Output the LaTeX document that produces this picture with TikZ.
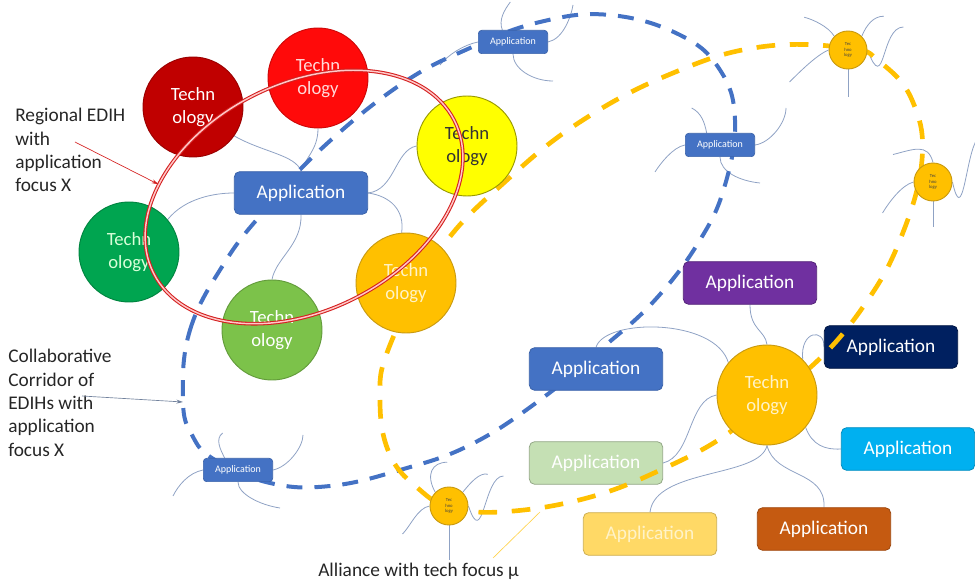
\documentclass[tikz,border=0pt]{standalone}
\usepackage{fontspec}
\setmainfont{Carlito}
\usetikzlibrary{shapes.geometric,arrows.meta}

\definecolor{cDarkRed}{HTML}{C00000}
\definecolor{cRed}{HTML}{FF0A0A}
\definecolor{cYellow}{HTML}{FFFF00}
\definecolor{cGreen}{HTML}{00A550}
\definecolor{cLightGreen}{HTML}{7CC24A}
\definecolor{cOrange}{HTML}{FFC000}
\definecolor{cOrangeDark}{HTML}{C99A10}
\definecolor{cBlue}{HTML}{4472C4}
\definecolor{cBlueDark}{HTML}{3A62AA}
\definecolor{cPurple}{HTML}{7030A0}
\definecolor{cNavy}{HTML}{002060}
\definecolor{cCyan}{HTML}{00B0F0}
\definecolor{cPaleGreen}{HTML}{C5E0B4}
\definecolor{cPaleYellow}{HTML}{FFD966}
\definecolor{cBrown}{HTML}{C55A11}
\definecolor{cLink}{HTML}{8FA2C4}
\definecolor{cRing}{HTML}{D42020}
\definecolor{cRingIn}{HTML}{FFC8C8}
\definecolor{cPaleText}{HTML}{FFF3C8}

\pgfdeclarelayer{back}
\pgfsetlayers{back,main}

\begin{document}
\begin{tikzpicture}[x=0.75pt,y=-0.75pt,
  tech/.style={circle, minimum size=75pt, inner sep=0pt, line width=0.7pt,
    align=center, font=\fontsize{14}{17}\selectfont},
  techsmall/.style={circle, minimum size=28.5pt, inner sep=0pt, fill=cOrange,
    draw=cOrangeDark, line width=0.7pt, align=center,
    font=\fontsize{3.5}{4.2}\selectfont, text=black!75},
  appbig/.style={rectangle, rounded corners=4pt, minimum width=100pt,
    minimum height=32pt, inner sep=0pt, line width=0.6pt,
    font=\fontsize{14.5}{17}\selectfont, text=white},
  appsmall/.style={rectangle, rounded corners=2.5pt, minimum width=52pt,
    minimum height=17.5pt, inner sep=0pt, fill=cBlue, draw=cBlueDark,
    line width=0.5pt, font=\fontsize{7.5}{9}\selectfont, text=white},
  conn/.style={draw=cLink, line width=0.6pt},
  lbl/.style={align=left, font=\fontsize{14.5}{17.5}\selectfont,
    text=black!85, inner sep=0pt},
  bluedash/.style={draw=cBlue, line width=3pt, dash pattern=on 12pt off 9pt},
  yellowdash/.style={draw=cOrange, line width=3.5pt, dash pattern=on 14pt off 11pt}
]
\useasboundingbox (0,0) rectangle (975,584);

% collaborative corridor (blue dashed loop)
\draw[bluedash] plot[smooth cycle, tension=0.7] coordinates {
  (183,400) (190,330) (225,262) (265,210) (320,150) (400,85) (470,48)
  (540,22) (610,15) (680,35) (720,70) (735,120) (725,185) (700,240)
  (655,300) (600,350) (540,400) (470,445) (400,470) (330,486) (270,483)
  (215,460) (192,435)};

% application boxes lying under the alliance loop
\node[appbig, fill=cPaleGreen, draw=cPaleGreen!75!black] (a5) at (596,463) {Application};
\node[appbig, fill=cNavy, draw=cNavy!70!black] (a3) at (891,347) {Application};

% alliance with tech focus (yellow dashed loop)
\draw[yellowdash] plot[smooth cycle, tension=0.7] coordinates {
  (390,345) (380,400) (390,455) (420,490) (449,506) (500,512) (587,498)
  (667,467) (730,432) (767,395) (813,365) (863,307) (900,240) (922,160)
  (912,100) (880,62) (848,48) (760,47) (673,73) (583,120) (507,180)
  (440,250)};

% technology circles
\node[tech, fill=cDarkRed, draw=cDarkRed!80!black, text=white] (t1) at (193,107) {Techn\\ology};
\node[tech, fill=cRed, draw=cRed!80!black, text=red!15] (t2) at (318,78) {Techn\\ology};
\node[tech, fill=cYellow, draw=cYellow!60!black, text=black!80] (t3) at (467,146) {Techn\\ology};
\node[tech, fill=cGreen, draw=cGreen!80!black, text=green!15] (t4) at (129,252) {Techn\\ology};
\node[tech, fill=cLightGreen, draw=cLightGreen!80!black, text=white] (t5) at (272,330) {Techn\\ology};
\node[tech, fill=cOrange, draw=cOrangeDark, text=cPaleText] (t6) at (406,283) {Techn\\ology};
\node[tech, fill=cOrange, draw=cOrangeDark, text=cPaleText] (t7) at (767,395) {Techn\\ology};

\node[techsmall] (s1) at (848,50) {Tec\\hno\\logy};
\node[techsmall] (s2) at (933,182) {Tec\\hno\\logy};
\node[techsmall] (s3) at (449,506) {Tec\\hno\\logy};

% application boxes
\node[appbig, fill=cBlue, draw=cBlueDark] (a0) at (301,193) {Application};
\node[appbig, fill=cBlue, draw=cBlueDark] (a1) at (596,369) {Application};
\node[appbig, fill=cPurple, draw=cPurple!75!black] (a2) at (750,283) {Application};
\node[appbig, fill=cCyan, draw=cCyan!80!black] (a4) at (908,449) {Application};
\node[appbig, fill=cPaleYellow, draw=cPaleYellow!80!black, text=cPaleText] (a6) at (650,534) {Application};
\node[appbig, fill=cBrown, draw=cBrown!80!black] (a7) at (824,529) {Application};

\node[appsmall] (sa1) at (513,42) {Application};
\node[appsmall] (sa2) at (720,145) {Application};
\node[appsmall] (sa3) at (238,470) {Application};

% regional EDIH ring
\node[ellipse, rotate=27, minimum width=253pt, minimum height=170pt, inner sep=0pt,
  draw=cRing, double=cRingIn, double distance=1.1pt, line width=0.8pt] (edih) at (304,197) {};

% text labels
\node[lbl, anchor=north west] (lblA) at (15,108) {Regional EDIH\\with\\application\\focus X};
\node[lbl, anchor=north west] (lblB) at (8,349) {Collaborative\\Corridor of\\EDIHs with\\application\\focus X};
\node[lbl, anchor=north west] (lblC) at (318,563) {Alliance with tech focus µ};

\coordinate (lblAtip) at (75,142);
\coordinate (lblBtip) at (82,396);
\coordinate (corr) at (183,402);
\coordinate (lblCtip) at (493,558);
\coordinate (ally) at (540,512);

\draw[cRing, line width=0.5pt, -{Stealth[length=5pt,width=3pt]}] (lblAtip) -- (edih.148);
\draw[cLink!80!black, line width=0.5pt, -{Stealth[length=5pt,width=3pt]}] (lblBtip) -- (corr);
\draw[cOrange!70, line width=0.5pt] (lblCtip) -- (ally);

\begin{pgfonlayer}{back}
% regional cluster links
\draw[conn] (t1.-35) .. controls (262,152) and (296,155) .. (a0.north);
\draw[conn] (t2.south) .. controls (318,150) and (305,158) .. (a0.north);
\draw[conn] (t3.west) .. controls (395,150) and (395,190) .. (a0.east);
\draw[conn] (t6.95) .. controls (405,210) and (390,196) .. (a0.east);
\draw[conn] (t4.40) .. controls (185,198) and (215,193) .. (a0.west);
\draw[conn] (t5.north) .. controls (276,258) and (302,245) .. (a0.south);
% technology hub links
\draw[conn] (a2.south) .. controls (750,330) and (765,330) .. (t7.north);
\draw[conn] (t7.45) .. controls (800,330) and (825,328) .. (a3.west);
\draw[conn] (t7.-40) .. controls (812,445) and (825,450) .. (a4.west);
\draw[conn] (t7.south) .. controls (775,478) and (826,470) .. (a7.north);
\draw[conn] (t7.south) .. controls (760,478) and (655,468) .. (a6.north);
\draw[conn] (t7.west) .. controls (688,400) and (692,456) .. (a5.east);
\draw[conn] (a1.north) .. controls (605,318) and (715,318) .. (t7.140);
% tendrils of the small application boxes
\draw[conn] (sa1.west) .. controls +(-15,3) and +(8,-10) .. +(-38,23);
\draw[conn] ([xshift=-8pt]sa1.north) .. controls +(-4,-10) and +(-6,8) .. +(8,-28);
\draw[conn] (sa1.east) .. controls +(15,-3) and +(-2,12) .. +(25,-37);
\draw[conn] (sa1.south) .. controls +(0,15) and +(-20,0) .. +(40,27);
\draw[conn] (sa2.west) .. controls +(-12,2) and +(5,-8) .. +(-30,27);
\draw[conn] ([xshift=-10pt]sa2.north) .. controls +(-2,-10) and +(10,5) .. +(-15,-25);
\draw[conn] (sa2.east) .. controls +(15,-2) and +(0,15) .. +(31,-37);
\draw[conn] (sa2.south) .. controls +(0,15) and +(-20,-2) .. +(40,26);
\draw[conn] (sa3.west) .. controls +(-15,3) and +(5,-10) .. +(-30,26);
\draw[conn] ([xshift=-10pt]sa3.north) .. controls +(-4,-8) and +(-8,6) .. +(-2,-25);
\draw[conn] (sa3.east) .. controls +(15,-3) and +(0,12) .. +(30,-35);
\draw[conn] (sa3.south) .. controls +(0,12) and +(-20,-3) .. +(42,26);
% tendrils of the small technology circles
\draw[conn] (s1.west) .. controls +(-12,5) and +(10,-10) .. +(-39,32);
\draw[conn] (s1.north west) .. controls +(-6,-10) and +(8,2) .. +(-30,-19);
\draw[conn] (s1.north east) .. controls +(5,-12) and +(-10,0) .. +(22,-20);
\draw[conn] (s1.east) .. controls +(18,47) and +(-23,0) .. +(36,-23);
\draw[conn] (s1.south) -- +(0,28);
\draw[conn] (s2.north) .. controls +(-5,-20) and +(20,-5) .. +(-40,-8);
\draw[conn] (s2.west) .. controls +(-12,3) and +(6,-10) .. +(-31,31);
\draw[conn] (s2.east) .. controls +(10,45) and +(-10,20) .. +(23,-40);
\draw[conn] (s2.south) -- +(0,26);
\draw[conn] (s3.north west) .. controls +(-10,-18) and +(-15,0) .. +(12,-30);
\draw[conn] (s3.west) .. controls +(-12,2) and +(8,-8) .. +(-27,28);
\draw[conn] (s3.north east) .. controls +(8,-10) and +(-8,-2) .. +(25,-18);
\draw[conn] (s3.east) .. controls +(15,45) and +(-20,0) .. +(35,-30);
\draw[conn] (s3.south) -- +(0,35);
\end{pgfonlayer}
\end{tikzpicture}
\end{document}
